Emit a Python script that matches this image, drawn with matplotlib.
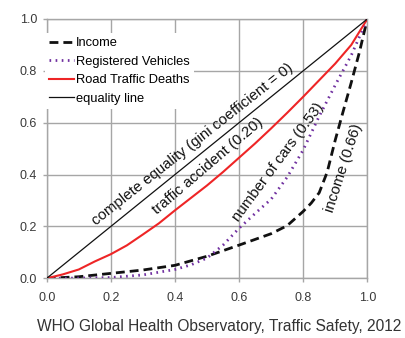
import matplotlib
matplotlib.use("Agg")
import matplotlib.pyplot as plt

plt.rcParams['font.family'] = ['Liberation Sans', 'DejaVu Sans']

# Lorenz curves: cumulative share of population vs. cumulative share of quantity
income_x = [0, 0.1, 0.2, 0.3, 0.4, 0.5, 0.6, 0.65, 0.7, 0.75, 0.8, 0.825, 0.85, 0.875,
            0.9, 0.925, 0.95, 0.975, 1.0]
income_y = [0, 0.006, 0.019, 0.032, 0.05, 0.085, 0.128, 0.15, 0.172, 0.203, 0.258, 0.29,
            0.33, 0.41, 0.533, 0.645, 0.755, 0.87, 1.0]

vehicles_x = [0, 0.1, 0.2, 0.3, 0.4, 0.45, 0.5, 0.55, 0.6, 0.65, 0.7, 0.75, 0.8, 0.85,
              0.9, 0.95, 1.0]
vehicles_y = [0, 0.001, 0.003, 0.013, 0.034, 0.052, 0.078, 0.128, 0.193, 0.25, 0.305,
              0.39, 0.495, 0.625, 0.745, 0.86, 1.0]

deaths_x = [0, 0.05, 0.1, 0.15, 0.2, 0.25, 0.3, 0.35, 0.4, 0.45, 0.5, 0.55, 0.6, 0.65,
            0.7, 0.75, 0.8, 0.85, 0.9, 0.95, 1.0]
deaths_y = [0, 0.015, 0.034, 0.065, 0.093, 0.127, 0.169, 0.212, 0.262, 0.31, 0.358, 0.41,
            0.465, 0.52, 0.578, 0.638, 0.70, 0.764, 0.828, 0.90, 1.0]

equality_x = [0, 1]
equality_y = [0, 1]

ticks = [0.0, 0.2, 0.4, 0.6, 0.8, 1.0]
tick_labels = ["0.0", "0.2", "0.4", "0.6", "0.8", "1.0"]

fig = plt.figure(figsize=(4.05, 3.38), dpi=100)
ax = fig.add_axes([0.1153, 0.1766, 0.7916, 0.7672])

grid_color = '#a6a6a6'
ax.plot(income_x, income_y, color='#111111', lw=2.0, ls=(0, (3.2, 1.8)),
        label='Income', zorder=4)
ax.plot(vehicles_x, vehicles_y, color='#7030a0', lw=2.0, ls=(0, (0.6, 1.6)),
        dash_capstyle='butt', label='Registered Vehicles', zorder=4)
ax.plot(deaths_x, deaths_y, color='#ee2526', lw=1.5, label='Road Traffic Deaths', zorder=4)
ax.plot(equality_x, equality_y, color='#111111', lw=0.9, label='equality line', zorder=4)

ax.set_xlim(0, 1)
ax.set_ylim(0, 1)
ax.set_xticks(ticks)
ax.set_xticklabels(tick_labels)
ax.set_yticks(ticks)
ax.set_yticklabels(tick_labels)
ax.grid(True, color=grid_color, lw=1.0)
ax.set_axisbelow(True)
for s in ax.spines.values():
    s.set_color(grid_color)
    s.set_linewidth(1.0)
ax.tick_params(axis='both', colors=grid_color, length=3, width=1.0, labelsize=9,
               labelcolor='#3a3a3a')
ax.tick_params(axis='x', pad=7)
ax.tick_params(axis='y', pad=4)

leg = ax.legend(loc='upper left', bbox_to_anchor=(-0.005, 0.945), fontsize=9.3,
                handlelength=1.9, handletextpad=0.2, labelspacing=0.5,
                borderaxespad=0.0, borderpad=0.3, frameon=True, fancybox=False)
leg.get_frame().set_edgecolor('none')
leg.get_frame().set_facecolor('white')
leg.get_frame().set_alpha(1)
leg.set_zorder(5)

txt_kw = dict(fontsize=10.8, ha='left', va='baseline', color='#111111',
              rotation_mode='anchor', zorder=6)
ax.text(0.154, 0.203, 'complete equality (gini coefficient = 0)', rotation=38.3, **txt_kw)
ax.text(0.343, 0.245, 'traffic accident (0.20)', rotation=40.5, **txt_kw)
ax.text(0.600, 0.216, 'number of cars (0.53)', rotation=53.5, **txt_kw)
ax.text(0.893, 0.250, 'income (0.66)', rotation=72, **txt_kw)

fig.text(0.54, 0.035, 'WHO Global Health Observatory, Traffic Safety, 2012',
         ha='center', va='center', fontsize=11.2, color='#333333')

fig.savefig('out.png', dpi=100)
